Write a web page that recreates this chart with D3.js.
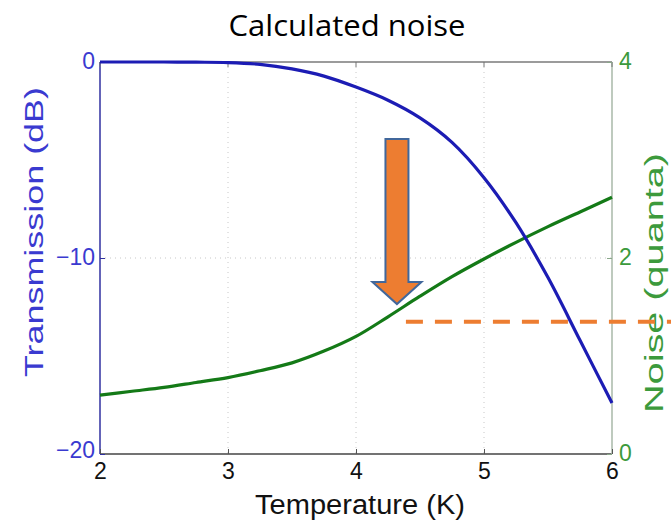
<!DOCTYPE html>
<html>
<head>
<meta charset="utf-8">
<script src="https://cdn.jsdelivr.net/npm/d3@7"></script>
<style>
  html, body { margin: 0; padding: 0; background: #fff; }
  svg { display: block; }
</style>
</head>
<body>
<svg id="chart" width="671" height="522"></svg>
<script>
// Temperature samples (K)
const temperature = [2, 2.25, 2.5, 2.75, 3, 3.25, 3.5, 3.75, 4, 4.25, 4.5, 4.75, 5, 5.25, 5.5, 5.75, 6];
// Transmission (dB) at each temperature
const transmission = [0, 0, 0, -0.01, -0.03, -0.12, -0.35, -0.72, -1.28, -1.95, -2.85, -4.1, -5.9, -8.2, -11.0, -14.2, -17.4];
// Noise (quanta) at each temperature
const noise = [0.60, 0.64, 0.68, 0.73, 0.78, 0.85, 0.93, 1.05, 1.20, 1.40, 1.61, 1.81, 1.99, 2.16, 2.32, 2.47, 2.62];

const xTicks = [2, 3, 4, 5, 6];
const leftTicks = [0, -10, -20];
const rightTicks = [0, 2, 4];

// Annotation: downward arrow (temperature, transmission dB) and noise threshold
const arrowT = 4.32;
const arrowTopDb = -3.93;
const arrowTipDb = -12.35;
const thresholdNoise = 1.35;
const thresholdStartT = 4.39;

const W = 671, H = 522;
const m = { left: 100, right: 612, top: 62, bottom: 454 };

const svg = d3.select("#chart");
const x = d3.scaleLinear().domain([2, 6]).range([m.left, m.right]);
const yL = d3.scaleLinear().domain([-20, 0]).range([m.bottom, m.top]);
const yR = d3.scaleLinear().domain([0, 4]).range([m.bottom, m.top]);

const FONT = "'Liberation Sans', Arial, sans-serif";
const BLUE = "#1c1cb4";
const BLUE_TXT = "#3a3ad0";
const GREEN = "#147a17";
const GREEN_TXT = "#3c9a3c";

// Title
svg.append("text")
  .attr("x", 347).attr("y", 36)
  .attr("text-anchor", "middle")
  .attr("font-family", "'Open Sans', 'Noto Sans', sans-serif")
  .attr("font-weight", 400)
  .attr("font-size", 29)
  .attr("textLength", 237)
  .attr("lengthAdjust", "spacingAndGlyphs")
  .attr("fill", "#000")
  .text("Calculated noise");

// Grid lines (dotted)
const grid = svg.append("g").attr("stroke", "#c8c8c8").attr("stroke-width", 1).attr("stroke-dasharray", "1,4");
xTicks.slice(1, -1).forEach(t => {
  grid.append("line").attr("x1", x(t)).attr("x2", x(t)).attr("y1", m.top).attr("y2", m.bottom);
});
grid.append("line").attr("x1", m.left).attr("x2", m.right).attr("y1", yL(-10)).attr("y2", yL(-10));

// Axes frame
svg.append("line").attr("x1", m.left).attr("x2", m.right).attr("y1", m.top).attr("y2", m.top)
  .attr("stroke", "#7a7a7a").attr("stroke-width", 1.5);
svg.append("line").attr("x1", m.left).attr("x2", m.right).attr("y1", m.bottom).attr("y2", m.bottom)
  .attr("stroke", "#444").attr("stroke-width", 1.5);
svg.append("line").attr("x1", m.left).attr("x2", m.left).attr("y1", m.top).attr("y2", m.bottom)
  .attr("stroke", "#3030a0").attr("stroke-width", 1.5);
svg.append("line").attr("x1", m.right).attr("x2", m.right).attr("y1", m.top).attr("y2", m.bottom)
  .attr("stroke", "#a9b8a9").attr("stroke-width", 1.5);

// Bottom axis ticks + labels
const xAxis = d3.axisBottom(x).tickValues(xTicks).tickSize(-5).tickFormat(d3.format("d"));
const gx = svg.append("g").attr("transform", `translate(0,${m.bottom})`).call(xAxis);
gx.select(".domain").remove();
gx.selectAll("line").attr("stroke", "#555");
gx.selectAll("text").attr("font-family", FONT).attr("font-size", 23).attr("fill", "#111")
  .attr("y", 9).attr("dy", "0.71em");
// top ticks
xTicks.forEach(t => {
  svg.append("line").attr("x1", x(t)).attr("x2", x(t)).attr("y1", m.top).attr("y2", m.top + 5)
    .attr("stroke", "#777");
});

// Left axis
const gl = svg.append("g").attr("transform", `translate(${m.left},0)`)
  .call(d3.axisLeft(yL).tickValues(leftTicks).tickSize(-5).tickFormat(d => d === 0 ? "0" : "\u2212" + Math.abs(d)));
gl.select(".domain").remove();
gl.selectAll("line").attr("stroke", "#3030a0");
gl.selectAll("text").attr("font-family", FONT).attr("font-size", 23).attr("fill", BLUE_TXT)
  .attr("x", -5).attr("dy", "0.3em");
gl.selectAll(".tick").filter(d => d === -20).select("text").attr("dy", "0.15em");

// Right axis
const gr = svg.append("g").attr("transform", `translate(${m.right},0)`)
  .call(d3.axisRight(yR).tickValues(rightTicks).tickSize(-5).tickFormat(d3.format("d")));
gr.select(".domain").remove();
gr.selectAll("line").attr("stroke", "#8aa88a");
gr.selectAll("text").attr("font-family", FONT).attr("font-size", 23).attr("fill", GREEN_TXT)
  .attr("x", 7).attr("dy", "0.3em");

// Axis titles
svg.append("text")
  .attr("transform", `translate(360,514)`)
  .attr("text-anchor", "middle")
  .attr("font-family", FONT).attr("font-size", 27).attr("fill", "#111")
  .attr("textLength", 210).attr("lengthAdjust", "spacingAndGlyphs")
  .text("Temperature (K)");
svg.append("text")
  .attr("transform", `translate(43,232) rotate(-90)`)
  .attr("text-anchor", "middle")
  .attr("font-family", FONT).attr("font-size", 26).attr("fill", BLUE_TXT)
  .attr("textLength", 290).attr("lengthAdjust", "spacingAndGlyphs")
  .text("Transmission (dB)");
svg.append("text")
  .attr("transform", `translate(663,283) rotate(-90)`)
  .attr("text-anchor", "middle")
  .attr("font-family", FONT).attr("font-size", 26).attr("fill", GREEN_TXT)
  .attr("textLength", 260).attr("lengthAdjust", "spacingAndGlyphs")
  .text("Noise (quanta)");

// Curves
const lineT = d3.line().x((d, i) => x(temperature[i])).y(d => yL(d)).curve(d3.curveCatmullRom.alpha(0.5));
const lineN = d3.line().x((d, i) => x(temperature[i])).y(d => yR(d)).curve(d3.curveCatmullRom.alpha(0.5));

svg.append("path").datum(noise).attr("d", lineN)
  .attr("fill", "none").attr("stroke", GREEN).attr("stroke-width", 3.2);
svg.append("path").datum(transmission).attr("d", lineT)
  .attr("fill", "none").attr("stroke", BLUE).attr("stroke-width", 3.2);

// Threshold dashed line
svg.append("line")
  .attr("x1", x(thresholdStartT)).attr("x2", W)
  .attr("y1", yR(thresholdNoise)).attr("y2", yR(thresholdNoise))
  .attr("stroke", "#ed7d31").attr("stroke-width", 4)
  .attr("stroke-dasharray", "17,12");

// Arrow
const arrowX = x(arrowT), arrowTop = yL(arrowTopDb), arrowTip = yL(arrowTipDb);
const shaftHalf = 11.5, headHalf = 24.5, headLen = 22;
const arrowPts = [
  [arrowX - shaftHalf, arrowTop], [arrowX + shaftHalf, arrowTop], [arrowX + shaftHalf, arrowTip - headLen],
  [arrowX + headHalf, arrowTip - headLen], [arrowX, arrowTip], [arrowX - headHalf, arrowTip - headLen],
  [arrowX - shaftHalf, arrowTip - headLen]
];
svg.append("path")
  .attr("d", d3.line()(arrowPts) + "Z")
  .attr("fill", "#ed7d31").attr("stroke", "#41679b").attr("stroke-width", 2)
  .attr("stroke-linejoin", "miter");
</script>
</body>
</html>
